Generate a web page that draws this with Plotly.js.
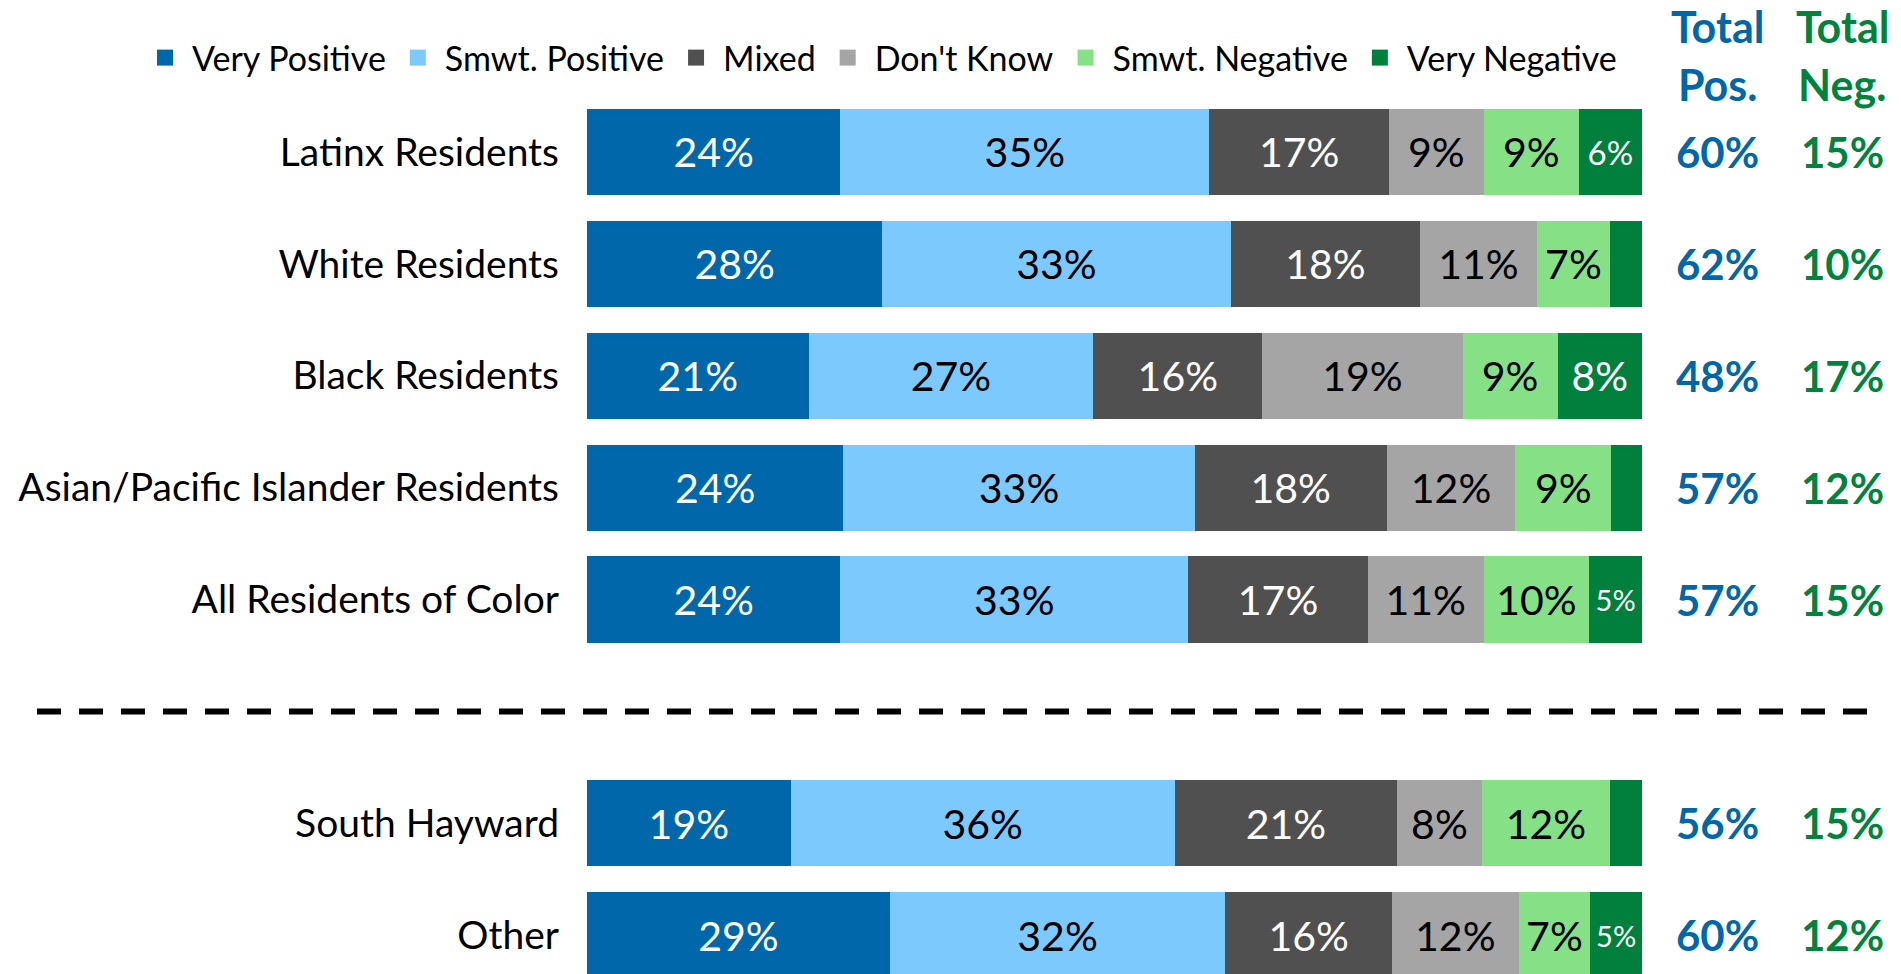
<!DOCTYPE html>
<html>
<head>
<meta charset="utf-8">
<script src="https://cdn.plot.ly/plotly-3.0.1.min.js"></script>
<style>
html,body{margin:0;padding:0;background:#fff;}
#chart{width:1901px;height:974px;}
</style>
</head>
<body>
<div id="chart"></div>
<script>
// ---- data ----
const categories = ['Latinx Residents','White Residents','Black Residents','Asian/Pacific Islander Residents','All Residents of Color','South Hayward','Other'];
const seriesNames = ['Very Positive','Smwt. Positive','Mixed',"Don't Know",'Smwt. Negative','Very Negative'];
const veryPositive = [24, 28, 21, 24.3, 24, 19.3, 28.7];
const smwtPositive = [35, 33, 27, 33.3, 33, 36.4, 31.8];
const mixed        = [17, 18, 16, 18.2, 17, 21.1, 15.8];
const dontKnow     = [9, 11, 19, 12.2, 11, 8.0, 12.0];
const smwtNegative = [9, 7, 9, 9.1, 10, 12.2, 6.8];
const veryNegative = [6, 3, 8, 2.9, 5, 3.0, 4.9];
const totalPos = [60, 62, 48, 57, 57, 56, 60];
const totalNeg = [15, 10, 17, 12, 15, 15, 12];

// ---- styling ----
const FONT = 'Lato, "Noto Sans", sans-serif';
const colors = ['#0068AA', '#7CC9FE', '#505050', '#A5A5A5', '#86E086', '#00803C'];
const textColors = ['#FFFFFF', '#000000', '#FFFFFF', '#000000', '#000000', '#FFFFFF'];
const posColor = '#0068AA';
const negColor = '#00843D';
const gapAfter = 5; // separator row after first 5 groups
const rowPos = categories.map((c, i) => i < gapAfter ? i : i + 1);

const series = [veryPositive, smwtPositive, mixed, dontKnow, smwtNegative, veryNegative];

const labelSize = v => { const r = Math.round(v); return r <= 5 ? 29 : (r <= 6 ? 33 : 41); };

const traces = series.map((vals, s) => ({
  type: 'bar',
  orientation: 'h',
  name: seriesNames[s],
  x: vals,
  y: rowPos,
  width: 0.77,
  showlegend: false,
  marker: {color: colors[s], line: {width: 0}},
  text: vals.map(v => v >= 4 ? Math.round(v) + '%' : ''),
  textposition: 'inside',
  insidetextanchor: 'middle',
  textangle: 0,
  textfont: {family: FONT, color: textColors[s], size: vals.map(labelSize)},
  hoverinfo: 'skip',
  cliponaxis: false
}));

// legend entries (square swatches), one per series
seriesNames.forEach((n, s) => traces.push({
  type: 'scatter', mode: 'markers', name: n, x: [null], y: [null],
  marker: {symbol: 'square', size: 18, color: colors[s]}, showlegend: true, hoverinfo: 'skip'
}));

const L = 587, R = 1642, T = 96, H = 974;
const plotW = R - L, plotH = H - T;
const px2paperX = x => (x - L) / plotW;
const px2paperY = y => (H - y) / plotH;

const annotations = [];
rowPos.forEach((p, i) => {
  annotations.push({xref: 'paper', yref: 'y', x: px2paperX(1717), y: p, text: '<b>' + totalPos[i] + '%</b>',
    showarrow: false, xanchor: 'center', yanchor: 'middle', font: {family: FONT, size: 42, color: posColor}});
  annotations.push({xref: 'paper', yref: 'y', x: px2paperX(1842), y: p, text: '<b>' + totalNeg[i] + '%</b>',
    showarrow: false, xanchor: 'center', yanchor: 'middle', font: {family: FONT, size: 42, color: negColor}});
});
[['Total', 27, 1717, posColor], ['Pos.', 85, 1717, posColor], ['Total', 27, 1842, negColor], ['Neg.', 85, 1842, negColor]]
  .forEach(([t, y, x, c]) => annotations.push({xref: 'paper', yref: 'paper', x: px2paperX(x), y: px2paperY(y),
    text: '<b>' + t + '</b>', showarrow: false, xanchor: 'center', yanchor: 'middle', font: {family: FONT, size: 43, color: c}}));

const layout = {
  width: 1901, height: 974,
  margin: {l: L, r: 1901 - R, t: T, b: 0, pad: 0},
  paper_bgcolor: '#FFFFFF', plot_bgcolor: '#FFFFFF',
  barmode: 'stack',
  showlegend: true,
  legend: {orientation: 'h', x: px2paperX(138), y: px2paperY(58), xanchor: 'left', yanchor: 'middle',
    font: {family: FONT, size: 34, color: '#000'}, traceorder: 'normal', itemclick: false, itemdoubleclick: false,
    itemsizing: 'trace', itemwidth: 44, bgcolor: 'rgba(0,0,0,0)'},
  xaxis: {range: [0, 100], visible: false, fixedrange: true},
  yaxis: {range: [-0.5 + plotH / 111.9, -0.5], tickmode: 'array', tickvals: rowPos, ticktext: categories,
    showgrid: false, zeroline: false, showline: false, ticks: '', ticklabelstandoff: 27,
    tickfont: {family: FONT, size: 39, color: '#000'}, fixedrange: true},
  shapes: [{type: 'line', xref: 'paper', yref: 'y', x0: px2paperX(37), x1: px2paperX(1867), y0: gapAfter, y1: gapAfter,
    line: {color: '#000', width: 6, dash: '24px,18px'}}],
  annotations: annotations,
  font: {family: FONT}
};

Plotly.newPlot('chart', traces, layout, {displayModeBar: false, staticPlot: true});
</script>
</body>
</html>
